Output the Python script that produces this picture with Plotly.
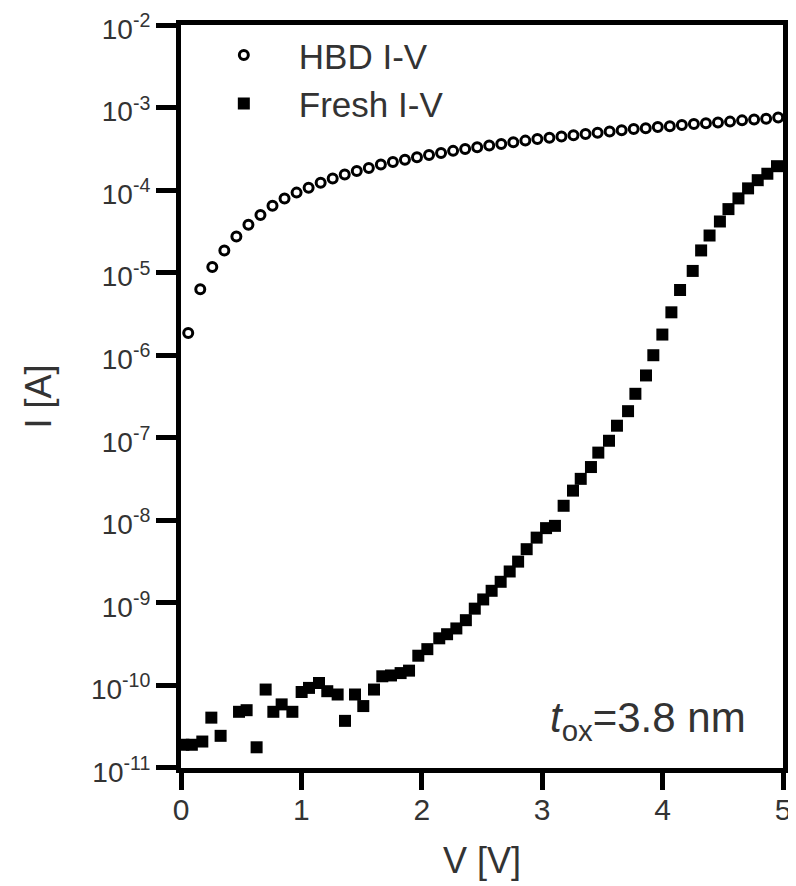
import plotly.graph_objects as go

# HBD I-V (open circles)
hbd_V = [0.06, 0.16, 0.26, 0.36, 0.46, 0.56, 0.66, 0.76, 0.86, 0.96,
         1.06, 1.16, 1.26, 1.36, 1.46, 1.56, 1.66, 1.76, 1.86, 1.96,
         2.06, 2.16, 2.26, 2.36, 2.46, 2.56, 2.66, 2.76, 2.86, 2.96,
         3.06, 3.16, 3.26, 3.36, 3.46, 3.56, 3.66, 3.76, 3.86, 3.96,
         4.06, 4.16, 4.26, 4.36, 4.46, 4.56, 4.66, 4.76, 4.86, 4.96]
hbd_I = [1.86e-6, 6.31e-6, 1.17e-5, 1.86e-5, 2.75e-5, 3.80e-5, 5.01e-5, 6.46e-5, 7.94e-5, 9.33e-5,
         1.07e-4, 1.23e-4, 1.38e-4, 1.55e-4, 1.70e-4, 1.86e-4, 2.04e-4, 2.19e-4, 2.34e-4, 2.51e-4,
         2.66e-4, 2.82e-4, 2.99e-4, 3.16e-4, 3.31e-4, 3.47e-4, 3.63e-4, 3.80e-4, 3.98e-4, 4.17e-4,
         4.32e-4, 4.47e-4, 4.62e-4, 4.79e-4, 4.95e-4, 5.13e-4, 5.31e-4, 5.50e-4, 5.62e-4, 5.82e-4,
         5.96e-4, 6.17e-4, 6.31e-4, 6.46e-4, 6.61e-4, 6.76e-4, 7.00e-4, 7.16e-4, 7.33e-4, 7.59e-4]

# Fresh I-V (filled squares)
fresh_V = [0.02, 0.09, 0.177, 0.252, 0.329, 0.482, 0.545, 0.628, 0.703, 0.767,
           0.836, 0.925, 1.002, 1.063, 1.146, 1.215, 1.301, 1.362, 1.445, 1.514,
           1.603, 1.672, 1.744, 1.824, 1.894, 1.971, 2.046, 2.145, 2.21, 2.287,
           2.366, 2.44, 2.51, 2.58, 2.655, 2.73, 2.80, 2.871, 2.954, 3.032,
           3.106, 3.178, 3.256, 3.32, 3.405, 3.466, 3.555, 3.621, 3.713, 3.774,
           3.862, 3.923, 3.998, 4.073, 4.145, 4.25, 4.32, 4.39, 4.476, 4.547,
           4.63, 4.71, 4.79, 4.87, 4.95]
fresh_I = [1.91e-11, 1.91e-11, 2.09e-11, 4.07e-11, 2.45e-11, 4.79e-11, 5.01e-11, 1.78e-11, 8.91e-11, 4.79e-11,
           5.89e-11, 4.79e-11, 8.32e-11, 9.33e-11, 1.07e-10, 8.51e-11, 7.76e-11, 3.72e-11, 7.76e-11, 5.62e-11,
           8.91e-11, 1.29e-10, 1.32e-10, 1.41e-10, 1.51e-10, 2.29e-10, 2.75e-10, 3.72e-10, 4.17e-10, 4.90e-10,
           6.17e-10, 8.51e-10, 1.10e-9, 1.40e-9, 1.80e-9, 2.40e-9, 3.16e-9, 4.47e-9, 6.17e-9, 8.04e-9,
           8.57e-9, 1.50e-8, 2.29e-8, 3.18e-8, 4.42e-8, 6.61e-8, 9.20e-8, 1.40e-7, 2.10e-7, 3.41e-7,
           5.69e-7, 1.00e-6, 1.78e-6, 3.31e-6, 6.17e-6, 1.05e-5, 1.86e-5, 2.82e-5, 4.17e-5, 5.89e-5,
           7.94e-5, 1.05e-4, 1.32e-4, 1.58e-4, 1.95e-4]

x_ticks = [0, 1, 2, 3, 4, 5]
y_ticks = [1e-11, 1e-10, 1e-9, 1e-8, 1e-7, 1e-6, 1e-5, 1e-4, 1e-3, 1e-2]
y_ticktext = ["10<sup>-11</sup>", "10<sup>-10</sup>", "10<sup>-9</sup>", "10<sup>-8</sup>",
              "10<sup>-7</sup>", "10<sup>-6</sup>", "10<sup>-5</sup>", "10<sup>-4</sup>",
              "10<sup>-3</sup>", "10<sup>-2</sup>"]

FONT = "Liberation Sans, Arial, sans-serif"
TXT = "#333333"

fig = go.Figure()
fig.add_trace(go.Scatter(
    x=hbd_V, y=hbd_I, mode="markers", name="HBD I-V",
    marker=dict(symbol="circle-open", size=9, color="black", line=dict(width=3, color="black")),
    cliponaxis=False,
))
fig.add_trace(go.Scatter(
    x=fresh_V, y=fresh_I, mode="markers", name="Fresh I-V",
    marker=dict(symbol="square", size=12, color="black", line=dict(width=0)),
    cliponaxis=False,
))

# the page body adds an 8 px offset, so the figure is 8 px smaller in each direction
fig.update_layout(
    width=788, height=878,
    margin=dict(l=173, r=13, t=17, b=118),
    paper_bgcolor="white", plot_bgcolor="white",
    font=dict(family=FONT, color=TXT),
    legend=dict(
        x=0.013, y=0.999, xanchor="left", yanchor="top",
        font=dict(size=35, family=FONT, color=TXT),
        bgcolor="rgba(0,0,0,0)", borderwidth=0,
        itemwidth=100, tracegroupgap=0,
    ),
    annotations=[dict(
        text="<i>t</i><sub>ox</sub>=3.8 nm",
        x=3.05, xref="x", xanchor="left",
        y=0.064, yref="paper", yanchor="middle",
        showarrow=False, font=dict(size=42, family=FONT, color=TXT),
    )],
)

fig.update_xaxes(
    range=[0, 5], tickvals=x_ticks, ticktext=[str(t) for t in x_ticks],
    ticks="outside", ticklen=17, tickwidth=5, tickcolor="black",
    showline=True, linewidth=5, linecolor="black", mirror=True,
    showgrid=False, zeroline=False, automargin=False,
    tickfont=dict(size=30, family=FONT, color=TXT),
    ticklabelstandoff=-6, ticklabeloverflow="allow",
    title=dict(text="V [V]", font=dict(size=36, family=FONT, color=TXT), standoff=24),
)
fig.update_yaxes(
    type="log", range=[-11.0005, -1.9995], tickvals=y_ticks, ticktext=y_ticktext,
    ticks="outside", ticklen=20, tickwidth=5, tickcolor="black",
    showline=True, linewidth=5, linecolor="black", mirror=True,
    showgrid=False, zeroline=False, automargin=False,
    tickfont=dict(size=28, family=FONT, color=TXT),
    ticklabelstandoff=0, ticklabeloverflow="allow", ticklabelshift=4,
    title=dict(text="I [A]", font=dict(size=36, family=FONT, color=TXT), standoff=30),
)

fig.write_html("out.html")
